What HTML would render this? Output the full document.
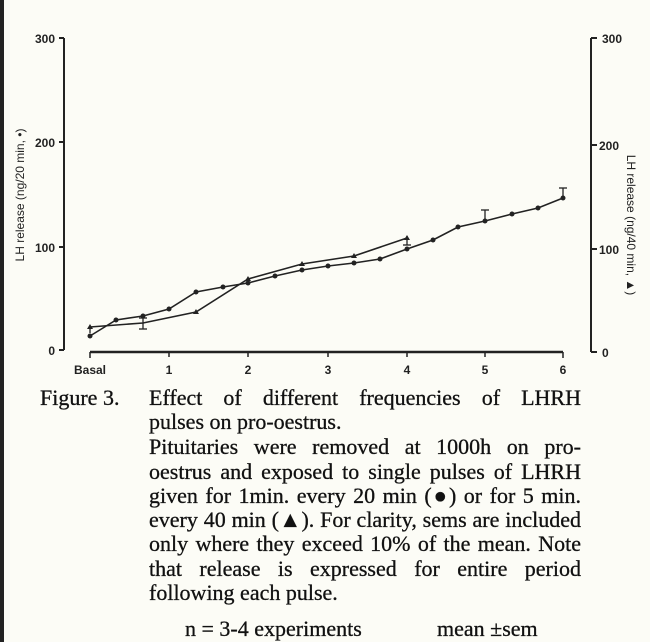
<!DOCTYPE html>
<html><head><meta charset="utf-8"><style>
body{margin:0;width:650px;height:642px;background:#fcfcf6;position:relative;overflow:hidden;font-family:"Liberation Serif",serif;color:#111}
.cap{position:absolute;left:149px;width:432px;font-size:22px;line-height:24px;text-align:justify;text-align-last:justify;white-space:nowrap;-webkit-text-stroke:0.3px #111}
.l{position:absolute;font-size:22px;line-height:24px;white-space:nowrap;-webkit-text-stroke:0.3px #111}
</style></head><body>
<div style="position:absolute;left:0;top:0;width:4px;height:642px;background:#222"></div>
<svg width="650" height="642" style="position:absolute;left:0;top:0" font-family="Liberation Sans, sans-serif" font-weight="bold" fill="#222">
<g stroke="#222" stroke-width="2" fill="none">
<line x1="64" y1="38" x2="64" y2="350"/>
<line x1="59" y1="38" x2="64" y2="38"/><line x1="59" y1="142" x2="64" y2="142"/><line x1="59" y1="247" x2="64" y2="247"/><line x1="59" y1="350" x2="64" y2="350"/>
<line x1="591" y1="38" x2="591" y2="352"/>
<line x1="591" y1="38" x2="597" y2="38"/><line x1="591" y1="145" x2="597" y2="145"/><line x1="591" y1="249" x2="597" y2="249"/><line x1="591" y1="352" x2="597" y2="352"/>
<line x1="90" y1="352" x2="563" y2="352" stroke-width="2.5"/>
<g stroke-width="1.5"><line x1="90" y1="352" x2="90" y2="358"/><line x1="169" y1="352" x2="169" y2="357"/><line x1="248" y1="352" x2="248" y2="357"/><line x1="328" y1="352" x2="328" y2="357"/><line x1="407" y1="352" x2="407" y2="357"/><line x1="485" y1="352" x2="485" y2="357"/><line x1="563" y1="352" x2="563" y2="358"/></g>
<polyline stroke-width="1.6" points="90,336 116,320 143,316 169,309 196,292 223,287 248,283 275,276 302,270 328,266 354,263 380,259 407,249 433,240 458,227 485,221 512,214 538,208 563,198"/>
<polyline stroke-width="1.6" points="90,327 143,323 196,312 248,279 302,264 354,256 407,238"/>
<g stroke-width="1.3"><line x1="90" y1="327" x2="90" y2="333"/><line x1="143" y1="318" x2="143" y2="329"/><line x1="139" y1="318" x2="147" y2="318"/><line x1="139" y1="329" x2="147" y2="329"/>
<line x1="407" y1="236" x2="407" y2="245"/><line x1="403" y1="245" x2="411" y2="245"/>
<line x1="485" y1="210" x2="485" y2="221"/><line x1="481" y1="210" x2="489" y2="210"/>
<line x1="563" y1="188" x2="563" y2="198"/><line x1="559" y1="188" x2="567" y2="188"/></g>
</g>
<g>
<circle cx="90" cy="336" r="2.5"/><circle cx="116" cy="320" r="2.5"/><circle cx="143" cy="316" r="2.5"/><circle cx="169" cy="309" r="2.5"/><circle cx="196" cy="292" r="2.5"/><circle cx="223" cy="287" r="2.5"/><circle cx="248" cy="283" r="2.5"/><circle cx="275" cy="276" r="2.5"/><circle cx="302" cy="270" r="2.5"/><circle cx="328" cy="266" r="2.5"/><circle cx="354" cy="263" r="2.5"/><circle cx="380" cy="259" r="2.5"/><circle cx="407" cy="249" r="2.5"/><circle cx="433" cy="240" r="2.5"/><circle cx="458" cy="227" r="2.5"/><circle cx="485" cy="221" r="2.5"/><circle cx="512" cy="214" r="2.5"/><circle cx="538" cy="208" r="2.5"/><circle cx="563" cy="198" r="2.5"/>
<path d="M90 324l3 5h-6z M196 309l3 5h-6z M248 276l3 5h-6z M302 261l3 5h-6z M354 253l3 5h-6z M407 235l3 5h-6z"/>
</g>
<g font-size="12" text-anchor="end">
<text x="55" y="43">300</text><text x="55" y="147">200</text><text x="55" y="252">100</text><text x="55" y="355">0</text>
</g>
<g font-size="12"><text x="602" y="43">300</text><text x="599" y="150">200</text><text x="599" y="254">100</text><text x="602" y="357">0</text></g>
<g font-size="12" text-anchor="middle"><text x="90" y="374">Basal</text><text x="169" y="374">1</text><text x="248" y="374">2</text><text x="328" y="374">3</text><text x="407" y="374">4</text><text x="485" y="374">5</text><text x="563" y="374">6</text></g>
<text font-size="12" font-weight="normal" transform="translate(24,195) rotate(-90)" text-anchor="middle">LH release (ng/20 min, •)</text>
<text font-size="12" font-weight="normal" transform="translate(627,225) rotate(90)" text-anchor="middle">LH release (ng/40 min, ▲)</text>
</svg>
<div class="l" style="left:40px;top:386px">Figure 3.</div>
<div class="cap" style="top:386px">Effect of different frequencies of LHRH</div>
<div class="l" style="left:149px;top:410px">pulses on pro-oestrus.</div>
<div class="cap" style="top:435px">Pituitaries were removed at 1000h on pro-</div>
<div class="cap" style="top:460px">oestrus and exposed to single pulses of LHRH</div>
<div class="cap" style="top:484px">given for 1min. every 20 min (●) or for 5 min.</div>
<div class="cap" style="top:508px">every 40 min (▲). For clarity, sems are included</div>
<div class="cap" style="top:532px">only where they exceed 10% of the mean. Note</div>
<div class="cap" style="top:557px">that release is expressed for entire period</div>
<div class="l" style="left:149px;top:581px">following each pulse.</div>
<div class="l" style="left:185px;top:617px">n = 3-4 experiments</div>
<div class="l" style="left:437px;top:617px">mean ±sem</div>
</body></html>
